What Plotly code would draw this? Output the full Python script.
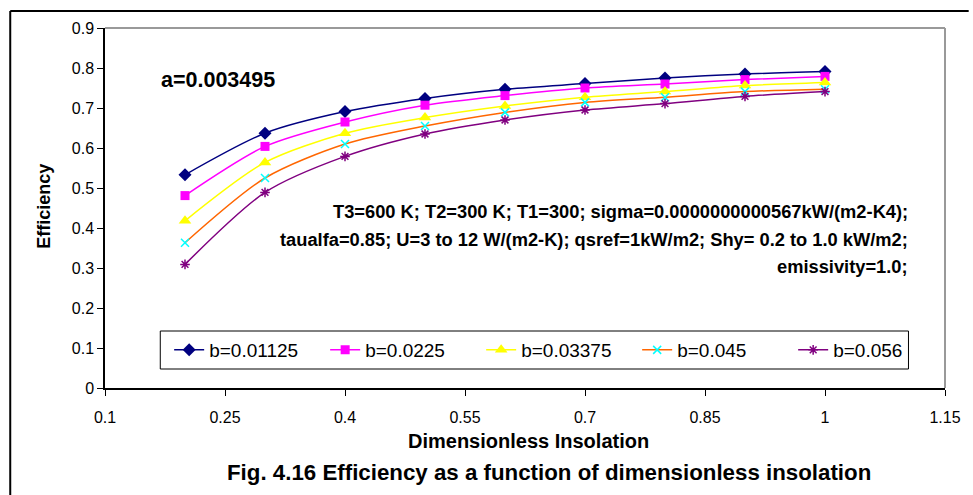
import plotly.graph_objects as go

insolation = [0.2, 0.3, 0.4, 0.5, 0.6, 0.7, 0.8, 0.9, 1.0]
eff_b01125 = [0.533, 0.637, 0.691, 0.724, 0.747, 0.761, 0.775, 0.785, 0.791]
eff_b0225 = [0.481, 0.604, 0.665, 0.707, 0.731, 0.750, 0.760, 0.771, 0.779]
eff_b03375 = [0.418, 0.564, 0.637, 0.676, 0.705, 0.727, 0.741, 0.756, 0.764]
eff_b045 = [0.363, 0.525, 0.610, 0.655, 0.689, 0.714, 0.727, 0.741, 0.747]
eff_b056 = [0.309, 0.489, 0.579, 0.635, 0.670, 0.695, 0.711, 0.729, 0.741]
series_names = ["b=0.01125", "b=0.0225", "b=0.03375", "b=0.045", "b=0.056"]

note_lines = [
    "T3=600 K; T2=300 K; T1=300; sigma=0.0000000000567kW/(m2-K4);",
    "taualfa=0.85; U=3 to 12 W/(m2-K); qsref=1kW/m2; Shy= 0.2 to 1.0 kW/m2;",
    "emissivity=1.0;",
]

BOLD = "Liberation Sans, Arial, sans-serif"
REG = "Liberation Sans, Arial, sans-serif"

styles = [
    dict(line_color="#000080", marker=dict(symbol="diamond", size=10, color="#000080")),
    dict(line_color="#FF00FF", marker=dict(symbol="square", size=9, color="#FF00FF")),
    dict(line_color="#FFFF00", marker=dict(symbol="triangle-up", size=11, color="#FFFF00")),
    dict(line_color="#FF6600", marker=dict(symbol="x-thin", size=8, color="#00FFFF",
                                           line=dict(color="#00FFFF", width=1.5))),
    dict(line_color="#800080", marker=dict(symbol="asterisk", size=8, color="#800080",
                                           line=dict(color="#800080", width=1.5))),
]
data = [eff_b01125, eff_b0225, eff_b03375, eff_b045, eff_b056]

fig = go.Figure()
for name, ys, st in zip(series_names, data, styles):
    fig.add_trace(go.Scatter(
        x=insolation, y=ys, name=name, mode="lines+markers",
        line=dict(color=st["line_color"], width=1.5, shape="spline", smoothing=0.8),
        marker=st["marker"],
    ))

def px_x(px):
    return (px - 105) / 851

def px_y(py):
    return (388 - py) / 360

fig.update_layout(
    width=973, height=495,
    margin=dict(l=105, r=17, t=28, b=107),
    paper_bgcolor="white", plot_bgcolor="white",
    font=dict(family=REG, size=16, color="black"),
    showlegend=True,
    legend=dict(
        orientation="h", x=px_x(170), y=px_y(331), xanchor="left", yanchor="top",
        borderwidth=0, bgcolor="rgba(0,0,0,0)",
        font=dict(family=REG, size=19), entrywidth=111, entrywidthmode="pixels",
    ),
    xaxis=dict(
        range=[0.1, 1.15], tick0=0.1, dtick=0.15, showgrid=False, zeroline=False,
        showline=True, linecolor="black", linewidth=1.5,
        ticks="outside", ticklen=6, tickcolor="black", ticklabelstandoff=8,
        tickfont=dict(family=REG, size=16),
    ),
    yaxis=dict(
        range=[0, 0.9], tick0=0, dtick=0.1, showgrid=False, zeroline=False,
        showline=True, linecolor="black", linewidth=1.5,
        ticks="outside", ticklen=6, tickcolor="black",
        tickfont=dict(family=REG, size=16),
    ),
)

# legend box
fig.add_shape(type="rect", xref="paper", yref="paper", x0=px_x(161), x1=px_x(919),
              y0=px_y(369), y1=px_y(331), line=dict(color="black", width=1),
              fillcolor="white", layer="above")
# plot-area border (gray top/right)
fig.add_shape(type="line", xref="paper", yref="paper", x0=0, x1=1, y0=1, y1=1,
              line=dict(color="#999999", width=2))
fig.add_shape(type="line", xref="paper", yref="paper", x0=1, x1=1, y0=0, y1=1,
              line=dict(color="#999999", width=2))
# outer frame (top and left)
fig.add_shape(type="line", xref="paper", yref="paper", x0=px_x(9), x1=px_x(980), y0=px_y(11), y1=px_y(11),
              line=dict(color="black", width=2))
fig.add_shape(type="line", xref="paper", yref="paper", x0=px_x(9), x1=px_x(9), y0=px_y(500), y1=px_y(11),
              line=dict(color="black", width=2))

ann = [
    dict(text="<b>a=0.003495</b>", x=px_x(160), y=px_y(80),
         xanchor="left", yanchor="middle", font=dict(family=BOLD, size=21.5)),
    dict(text="<b>Efficiency</b>", x=px_x(43), y=px_y(206), textangle=-90,
         xanchor="center", yanchor="middle", font=dict(family=BOLD, size=18)),
    dict(text="<b>Dimensionless Insolation</b>", x=px_x(534), y=px_y(441),
         xanchor="center", yanchor="middle", font=dict(family=BOLD, size=20)),
    dict(text="<b>Fig. 4.16 Efficiency as a function of dimensionless insolation</b>",
         x=px_x(555), y=px_y(472),
         xanchor="center", yanchor="middle", font=dict(family=BOLD, size=22.3)),
]
for line, ypx in zip(note_lines, [211, 239, 266]):
    ann.append(dict(text="<b>" + line + "</b>", x=px_x(921), y=px_y(ypx),
                    xanchor="right", yanchor="middle", font=dict(family=BOLD, size=18.3)))
for a in ann:
    fig.add_annotation(xref="paper", yref="paper", showarrow=False, **a)

fig.write_html("out.html")
